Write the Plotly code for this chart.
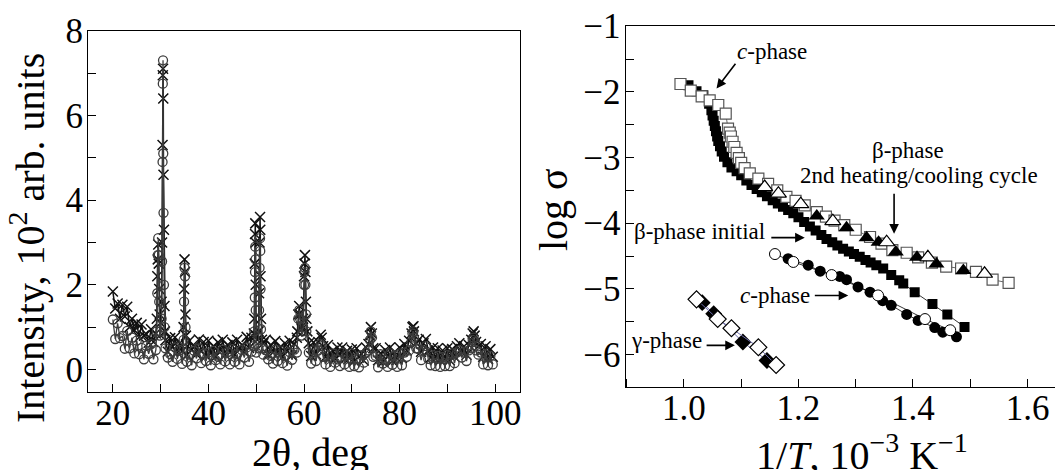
import numpy as np
import plotly.graph_objects as go

# ---------------- Left panel: XRD patterns ----------------
TTH_START = 20.0
TTH_STEP = 0.5
# crosses (upper pattern) on the 0.5-degree grid, 20.0 ... 99.5
xrd_cross_grid = [
    1.84, 1.44, 1.56, 1.20, 1.53, 1.25, 1.48, 1.00, 1.20, 0.93,
    1.10, 0.76, 1.06, 0.80, 0.84, 0.63, 0.95, 0.65, 0.85, 2.95,
    1.10, 7.10, 0.69, 0.42, 0.74, 0.54, 0.76, 0.40, 0.62, 0.43,
    2.60, 0.34, 0.68, 0.46, 0.54, 0.36, 0.71, 0.43, 0.65, 0.32,
    0.68, 0.38, 0.55, 0.30, 0.64, 0.46, 0.70, 0.35, 0.58, 0.40,
    0.64, 0.35, 0.70, 0.49, 0.58, 0.41, 0.77, 0.51, 0.75, 0.85,
    0.80, 0.90, 1.20, 0.62, 0.70, 0.35, 0.58, 0.40, 0.67, 0.37,
    0.53, 0.30, 0.62, 0.44, 0.68, 0.33, 0.60, 0.75, 1.50, 0.95,
    2.20, 1.20, 0.62, 0.32, 0.64, 0.36, 0.65, 0.82, 0.55, 0.30,
    0.58, 0.28, 0.44, 0.25, 0.52, 0.34, 0.52, 0.24, 0.44, 0.26,
    0.47, 0.20, 0.50, 0.30, 0.37, 0.21, 0.52, 0.60, 1.00, 0.50,
    0.50, 0.22, 0.38, 0.18, 0.46, 0.30, 0.52, 0.20, 0.42, 0.25,
    0.52, 0.27, 0.60, 0.45, 0.68, 0.85, 0.90, 0.62, 0.70, 0.42,
    0.62, 0.72, 0.45, 0.28, 0.52, 0.25, 0.50, 0.22, 0.45, 0.25,
    0.50, 0.22, 0.48, 0.30, 0.55, 0.62, 0.40, 0.55, 0.35, 0.58,
    0.70, 0.90, 0.65, 0.55, 0.60, 0.30, 0.55, 0.25, 0.48, 0.30,
]
# extra points read along the narrow reflections (crosses)
xrd_cross_peak_x = [29.2, 29.3, 29.4, 29.6, 29.7, 29.8,
                    30.2, 30.3, 30.4, 30.45, 30.55, 30.6, 30.7, 30.8, 30.9,
                    34.8, 34.9, 35.1, 35.2, 35.3,
                    49.6, 49.7, 49.75, 49.8, 49.85, 49.9, 50.2,
                    50.6, 50.7, 50.8, 50.85, 50.9, 51.2,
                    58.6, 58.8, 59.2, 59.4,
                    59.8, 60.1, 60.2, 60.3, 60.4, 60.7,
                    63.7, 73.8, 74.2, 82.7, 82.9, 95.3, 95.7]
xrd_cross_peak_y = [1.20, 2.20, 2.60, 2.50, 1.90, 1.30,
                    1.60, 3.00, 5.30, 6.95, 6.40, 4.60, 3.30, 1.50, 0.90,
                    1.00, 1.90, 2.30, 1.30, 0.80,
                    1.20, 2.50, 3.20, 3.45, 3.00, 2.00, 0.70,
                    1.80, 3.00, 3.60, 3.30, 2.20, 0.70,
                    0.90, 1.30, 1.30, 1.00,
                    1.20, 2.50, 2.70, 2.30, 1.60, 0.90,
                    0.75, 0.80, 0.85, 1.00, 1.02, 0.85, 0.80]

# circles (lower pattern) on the same grid
xrd_circle_grid = [
    1.18, 0.72, 1.09, 0.74, 0.79, 0.49, 0.91, 0.50, 0.75, 0.38,
    0.68, 0.36, 0.51, 0.24, 0.56, 0.37, 0.60, 0.24, 0.46, 3.10,
    0.90, 7.30, 0.50, 0.28, 0.36, 0.18, 0.52, 0.25, 0.46, 0.13,
    2.40, 0.18, 0.35, 0.10, 0.44, 0.26, 0.50, 0.15, 0.38, 0.20,
    0.40, 0.10, 0.44, 0.22, 0.30, 0.12, 0.47, 0.19, 0.41, 0.12,
    0.48, 0.18, 0.36, 0.12, 0.46, 0.28, 0.52, 0.18, 0.42, 0.55,
    0.40, 0.50, 0.95, 0.35, 0.46, 0.24, 0.32, 0.14, 0.47, 0.20,
    0.45, 0.15, 0.32, 0.09, 0.41, 0.23, 0.47, 0.40, 1.40, 0.80,
    2.00, 0.90, 0.40, 0.14, 0.45, 0.20, 0.45, 0.60, 0.30, 0.12,
    0.34, 0.06, 0.38, 0.16, 0.24, 0.08, 0.40, 0.12, 0.34, 0.06,
    0.38, 0.08, 0.25, 0.05, 0.34, 0.16, 0.40, 0.45, 0.90, 0.30,
    0.32, 0.05, 0.36, 0.14, 0.22, 0.06, 0.38, 0.11, 0.33, 0.06,
    0.38, 0.10, 0.40, 0.30, 0.45, 0.65, 0.75, 0.50, 0.48, 0.22,
    0.45, 0.55, 0.25, 0.10, 0.34, 0.08, 0.32, 0.06, 0.30, 0.08,
    0.34, 0.08, 0.38, 0.15, 0.40, 0.45, 0.28, 0.42, 0.20, 0.45,
    0.50, 0.75, 0.45, 0.35, 0.40, 0.12, 0.36, 0.10, 0.32, 0.12,
]
xrd_circle_peak_x = [29.2, 29.3, 29.4, 29.6, 29.7, 29.8,
                     30.2, 30.3, 30.4, 30.45, 30.55, 30.6, 30.7, 30.8,
                     34.8, 34.9, 35.1, 35.2,
                     49.6, 49.7, 49.75, 49.8, 49.85, 49.9,
                     50.6, 50.7, 50.8, 50.85, 50.9, 51.2,
                     58.8, 59.2,
                     59.8, 60.1, 60.2, 60.3, 60.4,
                     63.7, 73.8, 74.2, 82.7, 82.9, 95.3, 95.7]
xrd_circle_peak_y = [0.90, 1.80, 2.70, 2.70, 1.60, 0.80,
                     1.20, 2.55, 4.90, 6.75, 5.10, 3.70, 2.00, 1.00,
                     0.70, 1.60, 2.20, 1.00,
                     0.90, 1.70, 2.30, 2.90, 2.60, 1.40,
                     1.40, 2.40, 3.10, 2.80, 1.90, 0.50,
                     1.20, 1.20,
                     1.00, 2.30, 2.40, 2.00, 1.30,
                     0.55, 0.70, 0.75, 0.85, 0.90, 0.70, 0.65]

# ---------------- Right panel: log sigma vs 1/T ----------------
sq_open_x = [0.994, 1.012, 1.031, 1.045, 1.060, 1.073, 1.077, 1.080, 1.082, 1.085,
             1.088, 1.092, 1.096, 1.100, 1.106, 1.115, 1.130, 1.147, 1.163, 1.179,
             1.195, 1.211, 1.232, 1.248, 1.263, 1.280, 1.300, 1.325, 1.345, 1.364,
             1.389, 1.409, 1.433, 1.458, 1.484, 1.510, 1.539, 1.567]
sq_open_y = [-1.88, -1.98, -2.07, -2.13, -2.20, -2.33, -2.56, -2.62, -2.68, -2.76,
             -2.84, -2.93, -3.01, -3.08, -3.16, -3.24, -3.32, -3.40, -3.50, -3.60,
             -3.66, -3.73, -3.83, -3.90, -3.96, -4.03, -4.10, -4.21, -4.31, -4.41,
             -4.45, -4.52, -4.60, -4.66, -4.69, -4.74, -4.86, -4.91]

sq_fill_x = [1.008, 1.022, 1.034, 1.044, 1.048, 1.050, 1.052, 1.054, 1.056, 1.058,
             1.060, 1.063, 1.066, 1.070, 1.076, 1.083, 1.092, 1.100, 1.109, 1.118,
             1.127, 1.136, 1.145, 1.155, 1.164, 1.173, 1.182, 1.191, 1.200, 1.210,
             1.220, 1.230, 1.240, 1.249, 1.259, 1.268, 1.278, 1.288, 1.297, 1.307,
             1.317, 1.326, 1.336, 1.348, 1.362, 1.376, 1.383, 1.403, 1.434, 1.460,
             1.490]
sq_fill_y = [-1.90, -1.99, -2.05, -2.18, -2.28, -2.36, -2.44, -2.52, -2.60, -2.68,
             -2.75, -2.83, -2.91, -2.99, -3.07, -3.15, -3.21, -3.27, -3.35, -3.42,
             -3.48, -3.53, -3.59, -3.65, -3.70, -3.75, -3.80, -3.85, -3.91, -3.98,
             -4.05, -4.11, -4.18, -4.24, -4.29, -4.34, -4.39, -4.43, -4.47, -4.51,
             -4.56, -4.60, -4.64, -4.69, -4.79, -4.87, -4.92, -5.05, -5.23, -5.39,
             -5.58]

tri_fill_x = [1.232, 1.284, 1.319, 1.340, 1.370, 1.407, 1.441, 1.488]
tri_fill_y = [-3.89, -4.07, -4.22, -4.29, -4.44, -4.52, -4.62, -4.72]
tri_open_x = [1.141, 1.165, 1.204, 1.260, 1.354, 1.426, 1.525]
tri_open_y = [-3.45, -3.55, -3.71, -3.97, -4.29, -4.52, -4.77]

circ_open_x = [1.159, 1.191, 1.258, 1.339, 1.421, 1.465]
circ_open_y = [-4.47, -4.59, -4.79, -5.10, -5.46, -5.63]
circ_fill_x = [1.182, 1.217, 1.238, 1.272, 1.284, 1.304, 1.325, 1.347, 1.362, 1.389,
               1.409, 1.438, 1.452, 1.476]
circ_fill_y = [-4.54, -4.64, -4.73, -4.81, -4.86, -4.97, -5.05, -5.18, -5.25, -5.39,
               -5.48, -5.59, -5.66, -5.73]

dia_open_x = [1.022, 1.059, 1.083, 1.130, 1.161]
dia_open_y = [-5.16, -5.46, -5.60, -5.89, -6.16]
dia_fill_x = [1.032, 1.052, 1.103, 1.145]
dia_fill_y = [-5.21, -5.38, -5.81, -6.09]

SERIF = "Liberation Serif, Times New Roman, serif"

# ---------------- build figure ----------------
grid_x = TTH_START + TTH_STEP * np.arange(len(xrd_cross_grid))


def merged(gy, px, py):
    xs = np.concatenate([grid_x, np.array(px)])
    ys = np.concatenate([np.array(gy), np.array(py)])
    order = np.argsort(xs, kind="stable")
    return xs[order], ys[order]


cx, cy = merged(xrd_cross_grid, xrd_cross_peak_x, xrd_cross_peak_y)
ox, oy = merged(xrd_circle_grid, xrd_circle_peak_x, xrd_circle_peak_y)

fig = go.Figure()

fig.add_trace(go.Scatter(
    x=cx, y=cy, mode="lines+markers", xaxis="x", yaxis="y",
    line=dict(color="#111111", width=1.5),
    marker=dict(symbol="x-thin-open", size=10, color="#111111",
                line=dict(color="#111111", width=1.5)),
    showlegend=False))
fig.add_trace(go.Scatter(
    x=ox, y=oy, mode="lines+markers", xaxis="x", yaxis="y",
    line=dict(color="#3c3c3c", width=1.3),
    marker=dict(symbol="circle-open", size=9, color="#3c3c3c",
                line=dict(width=1.3)),
    showlegend=False))

# right panel traces
fig.add_trace(go.Scatter(
    x=sq_fill_x, y=sq_fill_y, mode="lines+markers", xaxis="x2", yaxis="y2",
    line=dict(color="#000000", width=0.8),
    marker=dict(symbol="square", size=10, color="#000000"),
    showlegend=False))
fig.add_trace(go.Scatter(
    x=sq_open_x, y=sq_open_y, mode="lines+markers", xaxis="x2", yaxis="y2",
    line=dict(color="#444444", width=0.8),
    marker=dict(symbol="square", size=11, color="#ffffff",
                line=dict(color="#555555", width=1.2)),
    showlegend=False))
fig.add_trace(go.Scatter(
    x=tri_fill_x, y=tri_fill_y, mode="markers", xaxis="x2", yaxis="y2",
    marker=dict(symbol="triangle-up", size=14, color="#000000"),
    showlegend=False))
fig.add_trace(go.Scatter(
    x=tri_open_x, y=tri_open_y, mode="markers", xaxis="x2", yaxis="y2",
    marker=dict(symbol="triangle-up", size=14, color="#ffffff",
                line=dict(color="#000000", width=1.2)),
    showlegend=False))
fig.add_trace(go.Scatter(
    x=circ_fill_x, y=circ_fill_y, mode="lines+markers", xaxis="x2", yaxis="y2",
    line=dict(color="#000000", width=0.8),
    marker=dict(symbol="circle", size=11, color="#000000"),
    showlegend=False))
fig.add_trace(go.Scatter(
    x=circ_open_x, y=circ_open_y, mode="lines+markers", xaxis="x2", yaxis="y2",
    line=dict(color="#000000", width=0.8),
    marker=dict(symbol="circle", size=11, color="#ffffff",
                line=dict(color="#000000", width=1)),
    showlegend=False))
fig.add_trace(go.Scatter(
    x=dia_fill_x, y=dia_fill_y, mode="lines+markers", xaxis="x2", yaxis="y2",
    line=dict(color="#6b6ba8", width=1),
    marker=dict(symbol="diamond", size=13, color="#000000"),
    showlegend=False))
fig.add_trace(go.Scatter(
    x=dia_open_x, y=dia_open_y, mode="lines+markers", xaxis="x2", yaxis="y2",
    line=dict(color="#6b6ba8", width=1),
    marker=dict(symbol="diamond", size=13, color="#ffffff",
                line=dict(color="#000000", width=1.2)),
    showlegend=False))

W, H = 1055, 470
tick_font = dict(family=SERIF, size=35, color="#000000")
title_font = dict(family=SERIF, size=40, color="#000000")
axis_common = dict(showline=True, linecolor="#000000", linewidth=1, mirror=True,
                   ticks="inside", ticklen=8, tickwidth=1, tickcolor="#000000",
                   showgrid=False, zeroline=False, tickfont=tick_font,
                   automargin=False)

fig.update_layout(
    width=W, height=H,
    margin=dict(l=0, r=0, t=0, b=0),
    paper_bgcolor="#ffffff", plot_bgcolor="#ffffff",
    font=dict(family=SERIF, color="#000000"),
    xaxis=dict(domain=[88 / W, 520 / W], range=[14.8, 105.2],
               tickvals=[20, 40, 60, 80, 100], ticklabelstandoff=-10,
               minor=dict(dtick=10, tick0=0, ticks="inside", ticklen=8,
                          tickcolor="#000000"),
               anchor="y", **axis_common),
    yaxis=dict(domain=[1 - 391.5 / H, 1 - 30.7 / H], range=[-0.52, 8.0],
               tickvals=[0, 2, 4, 6, 8], ticklabelstandoff=-3,
               minor=dict(dtick=1, tick0=0, ticks="inside", ticklen=8,
                          tickcolor="#000000"),
               anchor="x", **axis_common),
    xaxis2=dict(domain=[625.5 / W, 1.0], range=[0.898, 1.648],
                tickvals=[1.0, 1.2, 1.4, 1.6], tickformat=".1f",
                ticklabelstandoff=-10,
                minor=dict(dtick=0.1, tick0=0, ticks="inside", ticklen=8,
                           tickcolor="#000000"),
                anchor="y2", **axis_common),
    yaxis2=dict(domain=[1 - 386.7 / H, 1 - 26.2 / H], range=[-6.49, -1.0],
                tickvals=[-1, -2, -3, -4, -5, -6], ticklabelstandoff=-3,
                minor=dict(dtick=0.5, tick0=0, ticks="inside", ticklen=8,
                           tickcolor="#000000"),
                anchor="x2", **axis_common),
)

ann_font = dict(family=SERIF, size=23, color="#000000")
texts = [
    ("<i>c</i>-phase", 1.153, -1.38),
    ("β-phase", 1.391, -2.89),
    ("2nd heating/cooling cycle", 1.411, -3.28),
    ("β-phase initial", 1.028, -4.12),
    ("<i>c</i>-phase", 1.159, -5.10),
    ("γ-phase", 0.969, -5.79),
]
for t, x, y in texts:
    fig.add_annotation(text=t, x=x, y=y, xref="x2", yref="y2", showarrow=False,
                       font=ann_font, xanchor="center", yanchor="middle")

arrows = [  # (tail_x, tail_y, head_x, head_y)
    (1.092, -1.55, 1.057, -1.95),
    (1.367, -3.53, 1.367, -4.16),
    (1.150, -4.22, 1.211, -4.22),
    (1.226, -5.10, 1.287, -5.10),
    (1.037, -5.86, 1.089, -5.86),
]
for tx, ty, hx, hy in arrows:
    fig.add_annotation(text="", x=hx, y=hy, ax=tx, ay=ty, xref="x2", yref="y2",
                       axref="x2", ayref="y2", showarrow=True, arrowhead=2,
                       arrowsize=1.2, arrowwidth=1.6, arrowcolor="#000000")

# axis titles (placed in pixel-derived paper coordinates)
axis_titles = [
    ("2θ, deg", 310, 452, 0),
    ("Intensity, 10<sup>2</sup> arb. units", 28, 238, -90),
    ("log σ", 553, 210, -90),
    ("1/<i>T</i>, 10<sup>−3</sup> K<sup>−1</sup>", 861.5, 452, 0),
]
for t, px, py, ang in axis_titles:
    fig.add_annotation(text=t, x=px / W, y=1 - py / H, xref="paper", yref="paper",
                       showarrow=False, font=title_font, textangle=ang,
                       xanchor="center", yanchor="middle")

fig.write_html("out.html",
               config={"displayModeBar": False},
               post_script="document.body.style.margin='0';"
                           "document.body.style.overflow='hidden';")
